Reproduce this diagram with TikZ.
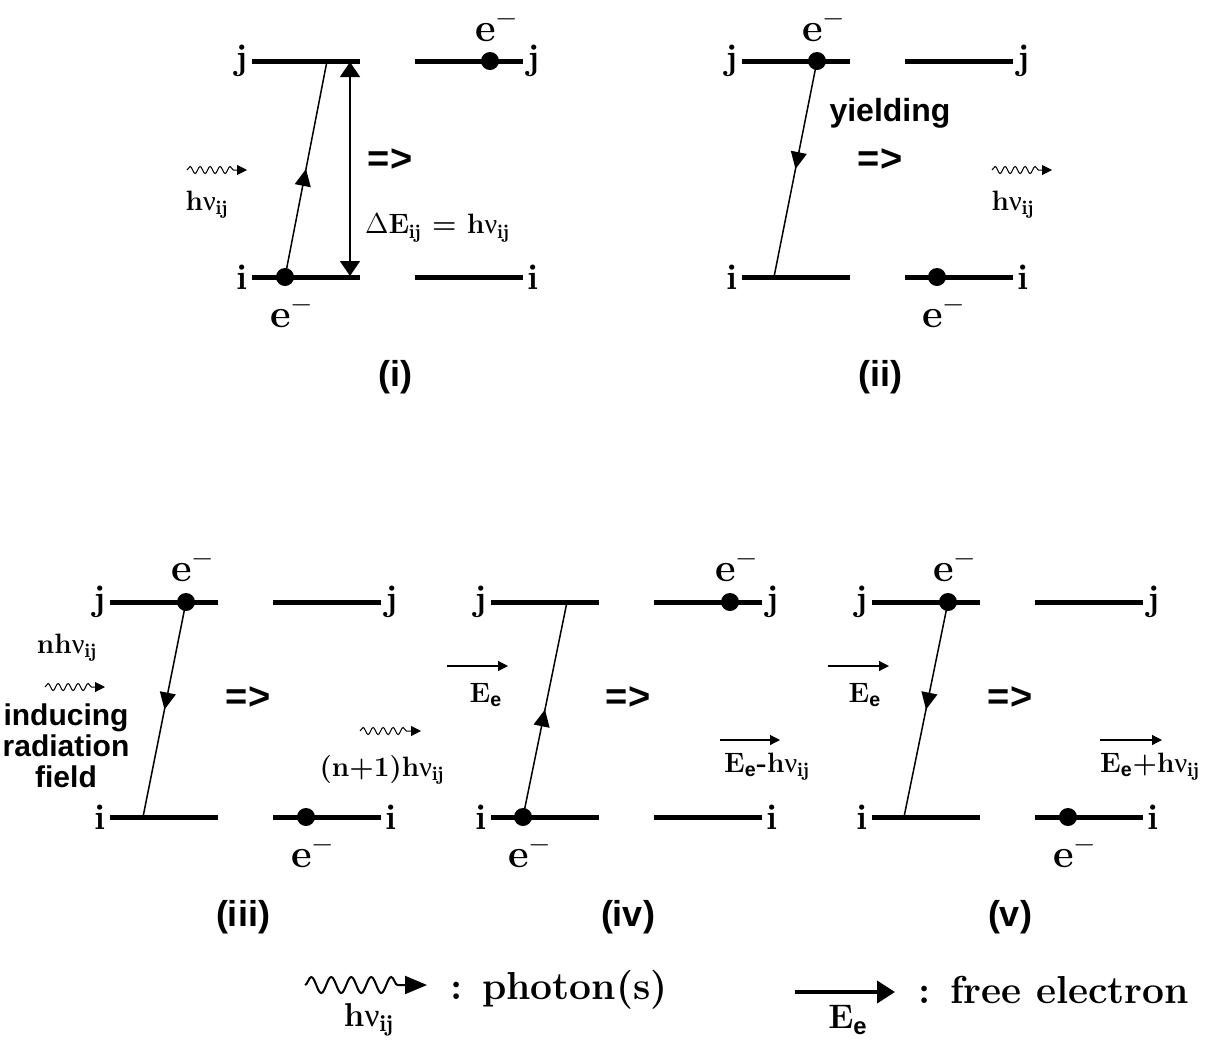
\documentclass[tikz,border=0pt]{standalone}
\usepackage{amsmath}
\usepackage{fontspec}
\setsansfont{Liberation Sans}
\newfontfamily\grk{Liberation Serif}
\usepackage{tikz}
\usetikzlibrary{arrows.meta,decorations.pathmorphing,decorations.markings}
\newcommand{\hnu}{\textbf{h}{\grk\mdseries ν}$_{\mathbf{ij}}$}
\newcommand{\Ee}{\textbf{E}$_{\textsf{\textbf{e}}}$}
\newcommand{\eminus}{\textbf{e}$^{-}$}
\begin{document}
\begin{tikzpicture}[x=.5pt,y=-.5pt,every node/.style={font=\bfseries\fontsize{14}{16}\selectfont},
lab/.style={font=\bfseries\fontsize{18}{20}\selectfont,inner sep=2pt},
elec/.style={font=\bfseries\fontsize{20}{22}\selectfont},
sans/.style={font=\sffamily\bfseries\fontsize{19}{21}\selectfont},
word/.style={font=\sffamily\bfseries\fontsize{15}{15.5}\selectfont},
tag/.style={font=\sffamily\bfseries\fontsize{18}{20}\selectfont},
big/.style={font=\bfseries\fontsize{19.5}{22}\selectfont,inner sep=0pt,anchor=west},
lvl/.style={line width=2.5pt},
dot/.style={circle,fill,inner sep=0pt,minimum size=9pt},
jump/.style={line width=.75pt,postaction={decorate},decoration={markings,mark=at position .5 with {\arrow{Triangle[length=8.5pt,width=8pt]}}}},
gap/.style={line width=.75pt,{Triangle[length=7.5pt,width=10pt]}-{Triangle[length=7.5pt,width=10pt]}},
phot/.style={decorate,decoration={snake,amplitude=1.8pt,segment length=5pt,post length=5pt},line width=.5pt,-{Triangle[length=5pt,width=5pt]}},
bigphot/.style={decorate,decoration={snake,amplitude=4pt,segment length=10pt,post length=11pt},line width=1pt,-{Triangle[length=11pt,width=9pt]}},
free/.style={line width=.6pt,-{Triangle[length=5pt,width=5pt]}},
bigfree/.style={line width=2pt,-{Triangle[length=9pt,width=11pt]}}]
\useasboundingbox (0,0) rectangle (1207,1046);
\node[lab,anchor=east] (j1a) at (252,61) {j}; \node[lab,anchor=west] (j1b) at (523,61) {j};
\node[lab,anchor=east] (i1a) at (252,277) {i}; \node[lab,anchor=west] (i1b) at (523,277) {i};
\draw[lvl] (j1a.east)--++(108,0); \draw[lvl] (j1b.west)--++(-108,0);
\draw[lvl] (i1a.east)--++(108,0); \draw[lvl] (i1b.west)--++(-108,0);
\node[dot] (e1a) at (285,277) {}; \node[dot] (e1b) at (490,61) {};
\node[elec] (l1a) at (292,312) {\eminus}; \node[elec] (l1b) at (497,26) {\eminus};
\coordinate (t1) at (327,61); \draw[jump] (e1a.center)--(t1);
\coordinate (d1a) at (350,62); \coordinate (d1b) at (350,276); \draw[gap] (d1a)--(d1b);
\node[anchor=west] (de) at (358,228) {$\Delta$\textbf{E}$_{\mathbf{ij}}$ = \hnu};
\coordinate (p1a) at (187,170); \coordinate (p1b) at (247,170); \draw[phot] (p1a)--(p1b);
\node (h1) at (207,205) {\hnu};
\node[sans] (r1) at (390,160) {=>};
\node[tag] (n1) at (395,377) {(i)};
\node[lab,anchor=east] (j2a) at (742,61) {j}; \node[lab,anchor=west] (j2b) at (1013,61) {j};
\node[lab,anchor=east] (i2a) at (742,277) {i}; \node[lab,anchor=west] (i2b) at (1013,277) {i};
\draw[lvl] (j2a.east)--++(108,0); \draw[lvl] (j2b.west)--++(-108,0);
\draw[lvl] (i2a.east)--++(108,0); \draw[lvl] (i2b.west)--++(-108,0);
\node[dot] (e2a) at (817,61) {}; \node[dot] (e2b) at (937,277) {};
\node[elec] (l2a) at (824,26) {\eminus}; \node[elec] (l2b) at (944,312) {\eminus};
\coordinate (t2) at (774,277); \draw[jump] (e2a.center)--(t2);
\node[word,font=\sffamily\bfseries\fontsize{16}{18}\selectfont] (y2) at (890,113) {yielding};
\node[sans] (r2) at (880,160) {=>};
\coordinate (p2a) at (992,170); \coordinate (p2b) at (1052,170); \draw[phot] (p2a)--(p2b);
\node (h2) at (1013,205) {\hnu};
\node[tag] (n2) at (880,377) {(ii)};
\node[lab,anchor=east] (j3a) at (110,602) {j}; \node[lab,anchor=west] (j3b) at (381,602) {j};
\node[lab,anchor=east] (i3a) at (110,817) {i}; \node[lab,anchor=west] (i3b) at (381,817) {i};
\draw[lvl] (j3a.east)--++(108,0); \draw[lvl] (j3b.west)--++(-108,0);
\draw[lvl] (i3a.east)--++(108,0); \draw[lvl] (i3b.west)--++(-108,0);
\node[dot] (e3a) at (186,602) {}; \node[dot] (e3b) at (306,817) {};
\node[elec] (l3a) at (193,566) {\eminus}; \node[elec] (l3b) at (313,852) {\eminus};
\coordinate (t3) at (143,817); \draw[jump] (e3a.center)--(t3);
\node (nh3) at (67,648) {\textbf{n}\hnu};
\coordinate (p3a) at (45,687); \coordinate (p3b) at (105,687); \draw[phot] (p3a)--(p3b);
\node[word,align=center] (f3) at (66,746) {inducing\\radiation\\field};
\node[sans] (r3) at (248,698) {=>};
\coordinate (q3a) at (360,731); \coordinate (q3b) at (421,731); \draw[phot] (q3a)--(q3b);
\node (nn3) at (382,770) {\textbf{(n+1)}\hnu};
\node[tag] (n3) at (243,917) {(iii)};
\node[lab,anchor=east] (j4a) at (491,602) {j}; \node[lab,anchor=west] (j4b) at (762,602) {j};
\node[lab,anchor=east] (i4a) at (491,817) {i}; \node[lab,anchor=west] (i4b) at (762,817) {i};
\draw[lvl] (j4a.east)--++(108,0); \draw[lvl] (j4b.west)--++(-108,0);
\draw[lvl] (i4a.east)--++(108,0); \draw[lvl] (i4b.west)--++(-108,0);
\node[dot] (e4a) at (523,817) {}; \node[dot] (e4b) at (730,602) {};
\node[elec] (l4a) at (530,852) {\eminus}; \node[elec] (l4b) at (737,566) {\eminus};
\coordinate (t4) at (567,602); \draw[jump] (e4a.center)--(t4);
\coordinate (f4a) at (447,666); \coordinate (f4b) at (508,666); \draw[free] (f4a)--(f4b);
\node (E4) at (486,695) {\Ee};
\node[sans] (r4) at (628,698) {=>};
\coordinate (g4a) at (720,740); \coordinate (g4b) at (780,740); \draw[free] (g4a)--(g4b);
\node (EE4) at (767,767) {\Ee\textbf{-}\hnu};
\node[tag] (n4) at (628,917) {(iv)};
\node[lab,anchor=east] (j5a) at (872,602) {j}; \node[lab,anchor=west] (j5b) at (1143,602) {j};
\node[lab,anchor=east] (i5a) at (872,817) {i}; \node[lab,anchor=west] (i5b) at (1143,817) {i};
\draw[lvl] (j5a.east)--++(108,0); \draw[lvl] (j5b.west)--++(-108,0);
\draw[lvl] (i5a.east)--++(108,0); \draw[lvl] (i5b.west)--++(-108,0);
\node[dot] (e5a) at (948,602) {}; \node[dot] (e5b) at (1068,817) {};
\node[elec] (l5a) at (955,566) {\eminus}; \node[elec] (l5b) at (1075,852) {\eminus};
\coordinate (t5) at (904,817); \draw[jump] (e5a.center)--(t5);
\coordinate (f5a) at (828,666); \coordinate (f5b) at (889,666); \draw[free] (f5a)--(f5b);
\node (E5) at (865,695) {\Ee};
\node[sans] (r5) at (1010,698) {=>};
\coordinate (g5a) at (1100,740); \coordinate (g5b) at (1162,740); \draw[free] (g5a)--(g5b);
\node (EE5) at (1150,767) {\Ee\textbf{+}\hnu};
\node[tag] (n5) at (1010,917) {(v)};
\coordinate (lp1) at (305,985); \coordinate (lp2) at (427,985); \draw[bigphot] (lp1)--(lp2);
\node[font=\bfseries\fontsize{16.5}{18}\selectfont] (lh) at (369,1020) {\hnu};
\node[big] (lt1) at (450,990) {: photon(s)};
\coordinate (lf1) at (795,992); \coordinate (lf2) at (895,992); \draw[bigfree] (lf1)--(lf2);
\node[font=\bfseries\fontsize{17}{19}\selectfont] (le) at (848,1020) {\Ee};
\node[big] (lt2) at (918,990) {: free electron};
\end{tikzpicture}
\end{document}
